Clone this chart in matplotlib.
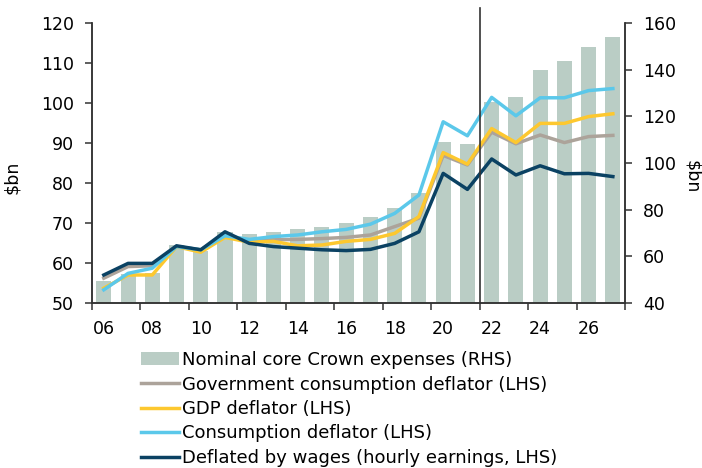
import matplotlib
matplotlib.use("Agg")
import matplotlib.pyplot as plt
from matplotlib.ticker import FixedLocator, NullFormatter, FixedFormatter

years = list(range(2006, 2028))
crown_expenses = [49.4, 52.5, 53.0, 64.8, 62.3, 70.4, 69.5, 70.4, 71.7, 72.6, 74.3, 76.9,
                  80.9, 87.3, 109.1, 108.1, 126.1, 128.3, 139.9, 143.8, 149.6, 154.0]
gov_deflator = [56.2, 59.1, 59.3, 64.1, 63.3, 67.0, 65.6, 65.8, 65.9, 66.1, 66.4, 67.0,
                69.1, 71.2, 86.9, 84.5, 92.7, 89.8, 92.0, 90.1, 91.6, 91.9]
gdp_deflator = [53.7, 57.0, 57.0, 64.1, 62.7, 66.4, 65.2, 65.4, 64.3, 64.5, 65.4, 65.9,
                67.4, 71.6, 87.6, 84.7, 93.6, 90.1, 94.9, 94.9, 96.6, 97.3]
cons_deflator = [53.3, 57.4, 58.7, 64.1, 63.3, 66.8, 65.9, 66.6, 67.0, 67.8, 68.4, 69.7,
                 72.4, 77.0, 95.3, 91.8, 101.4, 96.8, 101.3, 101.3, 103.1, 103.6]
wage_deflated = [57.0, 59.9, 59.9, 64.3, 63.3, 67.8, 64.9, 64.1, 63.7, 63.3, 63.1, 63.4,
                 64.9, 67.8, 82.4, 78.4, 86.0, 82.0, 84.3, 82.3, 82.4, 81.6]
label_years = list(range(2006, 2028, 2))
tick_labels = ["06", "08", "10", "12", "14", "16", "18", "20", "22", "24", "26"]
legend_labels = ["Nominal core Crown expenses (RHS)",
                 "Government consumption deflator (LHS)",
                 "GDP deflator (LHS)",
                 "Consumption deflator (LHS)",
                 "Deflated by wages (hourly earnings, LHS)"]
forecast_start = 2021.5

plt.rcParams['font.family'] = ['DejaVu Sans']
FS = 12.5
LFS = 13
spine_c = '#333333'

fig = plt.figure(figsize=(7.02, 4.68), dpi=100)
ax = fig.add_axes([0.1306, 0.3526, 0.8903 - 0.1306, 0.9509 - 0.3526])
ax2 = ax.twinx()

bars = ax2.bar(years, crown_expenses, width=0.62, color='#bacdc5', zorder=1,
               label=legend_labels[0])

lw = 2.5
l1, = ax.plot(years, gov_deflator, color='#aca39a', lw=lw, label=legend_labels[1])
l2, = ax.plot(years, gdp_deflator, color='#fdc82f', lw=lw, label=legend_labels[2])
l3, = ax.plot(years, cons_deflator, color='#5bc8ea', lw=lw, label=legend_labels[3])
l4, = ax.plot(years, wage_deflated, color='#0b4263', lw=lw, label=legend_labels[4])

ax.set_zorder(ax2.get_zorder() + 1)
ax.patch.set_visible(False)

ax.axvline(forecast_start, ymin=0, ymax=1.054, color=spine_c, lw=1.2, clip_on=False, zorder=5)

ax.set_xlim(2005.5, 2027.5)
ax.set_ylim(50, 120)
ax2.set_ylim(40, 160)
ax.set_yticks(range(50, 121, 10))
ax2.set_yticks(range(40, 161, 20))

ax.xaxis.set_major_locator(FixedLocator([y + 0.5 for y in range(2005, 2028, 2)]))
ax.xaxis.set_major_formatter(NullFormatter())
ax.xaxis.set_minor_locator(FixedLocator(label_years))
ax.xaxis.set_minor_formatter(FixedFormatter(tick_labels))
ax.tick_params(axis='x', which='major', length=5, width=1.1, color=spine_c, direction='out')
ax.tick_params(axis='x', which='minor', length=0, pad=12.5, labelsize=FS)
ax.tick_params(axis='y', length=5, width=1.1, color=spine_c, pad=8, labelsize=FS)
ax2.tick_params(axis='y', length=5, width=1.1, color=spine_c, pad=8, labelsize=FS)

for a in (ax, ax2):
    a.spines['top'].set_visible(False)
    for s in ('left', 'right', 'bottom'):
        a.spines[s].set_color(spine_c)
        a.spines[s].set_linewidth(1.1)

ax.set_ylabel("$bn", fontsize=FS)
ax.yaxis.set_label_coords(-0.1316, 0.45)
ax2.set_ylabel("$bn", fontsize=FS, rotation=-90, va='center')
ax2.yaxis.set_label_coords(1.125, 0.45)

fig.legend([bars, l1, l2, l3, l4], legend_labels, loc='upper left',
           bbox_to_anchor=(0.201, 0.25), frameon=False, fontsize=LFS,
           handlelength=2.1, handletextpad=0.17, labelspacing=0.36,
           borderaxespad=0, borderpad=0)

fig.savefig("out.png", dpi=100)
